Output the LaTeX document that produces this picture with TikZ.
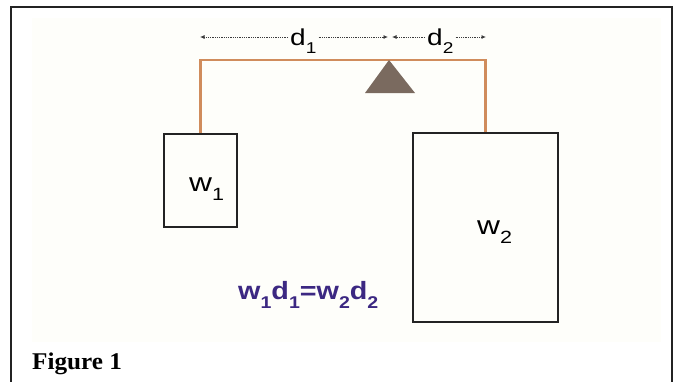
\documentclass[tikz,border=0pt]{standalone}
\usepackage{fontspec}
\usepackage{graphicx}
\setmainfont{Liberation Serif}
\newfontfamily\labsans{Liberation Sans}
\usetikzlibrary{arrows.meta}
\definecolor{beamc}{RGB}{208,140,92}
\definecolor{fulc}{RGB}{122,106,95}
\definecolor{eqc}{RGB}{60,40,130}
\definecolor{cream}{RGB}{254,254,250}
\definecolor{framec}{RGB}{35,35,35}
\definecolor{dimc}{RGB}{60,60,60}
\newcommand\lsub[1]{\raisebox{-0.38em}{\scalebox{0.68}{#1}}}
\newcommand\wide[1]{\scalebox{1.22}[1]{#1}}
\tikzset{
  wbox/.style={draw=framec, line width=1.8pt, minimum width=#1, inner sep=0pt},
  lab/.style={font=\labsans\fontsize{23}{23}\selectfont, inner sep=2pt, anchor=base west, text=black},
  wlab/.style={font=\labsans\fontsize{26}{26}\selectfont, inner sep=0pt, anchor=base west, text=black},
  dimarrow/.style={dimc, densely dotted, line width=0.8pt, -{Latex[length=4.5pt,width=4pt]}},
  beam/.style={beamc, line width=2.8pt},
}
\begin{document}
\begin{tikzpicture}[x=1pt,y=-1pt]
\useasboundingbox (0,0) rectangle (674,381);
\fill[cream] (32,18) rectangle (661,342);
\draw[framec, line width=2pt] (11,390) -- (11,7) -- (672,7) -- (672,390);
% boxes
\node[wbox=73pt, minimum height=93pt] (w1) at (200.5,180.5) {};
\node[wbox=145pt, minimum height=189pt] (w2) at (485.5,227.5) {};
\node[wlab] (w1l) at (189,191) {\wide{w\lsub{1}}};
\node[wlab] (w2l) at (477,234) {\wide{w\lsub{2}}};
% beam and fulcrum
\coordinate (apex) at (389,60);
\draw[beam] (w1.north) |- (apex) -| (w2.north);
\fill[fulc] (apex) -- (365,93) -- (415,93) -- cycle;
% dimension labels
\node[lab] (d1) at (288,45) {\wide{d\lsub{1}}};
\node[lab] (d2) at (425,45) {\wide{d\lsub{2}}};
\coordinate (d1l) at (200,37);
\coordinate (d1r) at (388,37);
\coordinate (d2l) at (392,37);
\coordinate (d2r) at (486,37);
\draw[dimarrow] (d1.west |- d1l) -- (d1l);
\draw[dimarrow] (d1.east |- d1r) -- (d1r);
\draw[dimarrow] (d2.west |- d2l) -- (d2l);
\draw[dimarrow] (d2.east |- d2r) -- (d2r);
% equation
\node[font=\labsans\bfseries\fontsize{25}{25}\selectfont, text=eqc, inner sep=0pt, anchor=base west] (eq) at (238,299) {\scalebox{1.15}[1]{w\lsub{1}d\lsub{1}=w\lsub{2}d\lsub{2}}};
% caption
\node[font=\bfseries\fontsize{24}{24}\selectfont, inner sep=0pt, anchor=base west] (cap) at (32,369) {\scalebox{1.05}[1]{Figure 1}};
\end{tikzpicture}
\end{document}
